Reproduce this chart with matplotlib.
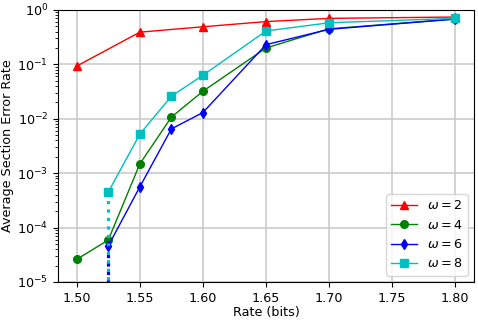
import matplotlib
matplotlib.use("Agg")
import matplotlib.pyplot as plt

plt.rcParams['font.size'] = 9.2

rate_w2 = [1.50, 1.55, 1.60, 1.65, 1.70, 1.80]
ser_w2 = [0.093, 0.39, 0.49, 0.61, 0.70, 0.74]
rate_w4 = [1.50, 1.525, 1.55, 1.575, 1.60, 1.65, 1.70, 1.80]
ser_w4 = [2.6e-5, 5.9e-5, 1.48e-3, 0.0107, 0.032, 0.20, 0.45, 0.68]
rate_w6 = [1.525, 1.55, 1.575, 1.60, 1.65, 1.70, 1.80]
ser_w6 = [4.6e-5, 5.6e-4, 6.5e-3, 0.0130, 0.23, 0.44, 0.68]
rate_w8 = [1.525, 1.55, 1.575, 1.60, 1.65, 1.70, 1.80]
ser_w8 = [4.5e-4, 5.2e-3, 0.026, 0.063, 0.41, 0.58, 0.70]
floor_val = 1e-6

fig = plt.figure(figsize=(4.78, 3.2), dpi=100)
ax = fig.add_axes([0.121, 0.119, 0.871, 0.850])

ax.plot(rate_w2, ser_w2, 'r-^', lw=1, ms=5.5, label=r'$\omega=2$')
ax.plot(rate_w4, ser_w4, 'g-o', lw=1, ms=5.5, label=r'$\omega=4$')
ax.plot(rate_w6, ser_w6, 'b-d', lw=1, ms=5.5, label=r'$\omega=6$')
ax.plot(rate_w8, ser_w8, 'c-s', lw=1, ms=5.5, label=r'$\omega=8$')
ax.plot([rate_w8[0], rate_w8[0]], [ser_w8[0], floor_val], 'c:', lw=2.3)
ax.plot([rate_w6[0], rate_w6[0]], [ser_w6[0], floor_val], 'b:', lw=2.3)

ax.set_yscale('log')
ax.set_ylim(1e-5, 1)
ax.set_xlim(1.485, 1.815)
ax.set_xticks([1.50, 1.55, 1.60, 1.65, 1.70, 1.75, 1.80])
ax.grid(True, color='#cccccc', lw=1.2)
ax.set_axisbelow(True)
ax.set_xlabel('Rate (bits)', labelpad=1)
ax.set_ylabel('Average Section Error Rate', labelpad=2)
ax.legend(loc='lower right')

fig.savefig('out.png', dpi=100)
